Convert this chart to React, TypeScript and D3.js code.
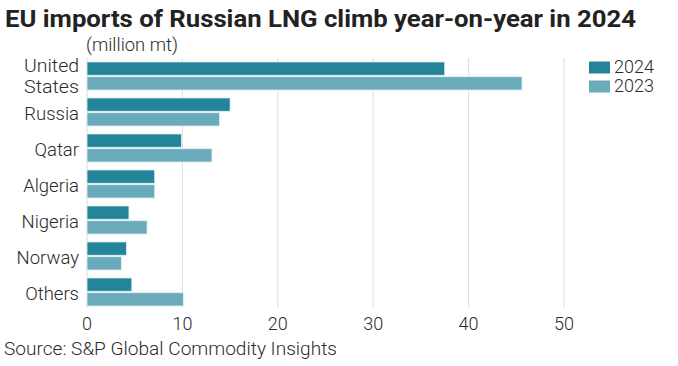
import React from "react";
import * as d3 from "d3";

const categories = ["United States", "Russia", "Qatar", "Algeria", "Nigeria", "Norway", "Others"];
const categoryLines = [["United", "States"], ["Russia"], ["Qatar"], ["Algeria"], ["Nigeria"], ["Norway"], ["Others"]];
const values2024 = [37.5, 15.0, 9.9, 7.1, 4.4, 4.15, 4.7];
const values2023 = [45.6, 13.9, 13.1, 7.1, 6.3, 3.6, 10.1];
const seriesNames = ["2024", "2023"];
const xTicks = [0, 10, 20, 30, 40, 50];

const W = 678;
const H = 366;
const FONT = "Roboto, 'Noto Sans', sans-serif";
const COLORS = ["#24849a", "#6aabbb"];
const TEXT = "#2b2b2b";

export default function App() {
  const x = d3.scaleLinear().domain([0, 50]).range([87, 564]);
  const y = d3.scaleBand<string>().domain(categories).range([58, 310]).paddingInner(0.22).paddingOuter(0.11);
  const inner = d3.scaleBand<string>().domain(seriesNames).range([0, y.bandwidth()]).paddingInner(0.1);
  const series = [values2024, values2023];

  return (
    <svg width={W} height={H} style={{ position: "absolute", left: 0, top: 0, background: "#fff" }}>
      <text x={5} y={27} fontFamily={FONT} fontWeight={700} fontSize={24} fill="#222" textLength={631} lengthAdjust="spacingAndGlyphs">
        EU imports of Russian LNG climb year-on-year in 2024
      </text>
      <text x={86} y={51} fontFamily={FONT} fontWeight={300} fontSize={18} fill={TEXT} textLength={92} lengthAdjust="spacingAndGlyphs">
        (million mt)
      </text>
      {xTicks.map((t) => (
        <g key={t}>
          <line x1={x(t)} x2={x(t)} y1={58} y2={308} stroke="#e3e3e3" strokeWidth={1.2} />
          <text x={x(t)} y={330} textAnchor="middle" fontFamily={FONT} fontWeight={300} fontSize={18} fill={TEXT}>
            {t}
          </text>
        </g>
      ))}
      {categories.map((c, i) => {
        const lines = categoryLines[i];
        const n = lines.length;
        const cy = (y(c) as number) + y.bandwidth() / 2;
        const lh = 20.6;
        const fs = n === 1 ? 18.5 : 17.5;
        return (
          <g key={c}>
            {series.map((vals, s) => (
              <rect
                key={s}
                x={x(0)}
                y={(y(c) as number) + (inner(seriesNames[s]) as number)}
                width={x(vals[i]) - x(0)}
                height={inner.bandwidth()}
                fill={COLORS[s]}
                stroke="#e6f1f4"
                strokeWidth={0.8}
              />
            ))}
            {lines.map((ln, k) => (
              <text
                key={k}
                x={79}
                y={n === 1 ? cy + 7.5 : cy + 6.3 + (k - (n - 1) / 2) * lh}
                textAnchor="end"
                fontFamily={FONT}
                fontWeight={300}
                fontSize={fs}
                fill={TEXT}
                textLength={n === 1 ? undefined : 55}
                lengthAdjust="spacingAndGlyphs"
              >
                {ln}
              </text>
            ))}
          </g>
        );
      })}
      {seriesNames.map((s, k) => (
        <g key={s}>
          <rect x={589} y={61.5 + k * 19} width={21} height={12} fill={COLORS[k]} />
          <text x={614} y={73 + k * 19} fontFamily={FONT} fontWeight={300} fontSize={18} fill={TEXT}>
            {s}
          </text>
        </g>
      ))}
      <text x={4} y={355} fontFamily={FONT} fontWeight={300} fontSize={18.5} fill={TEXT} textLength={333} lengthAdjust="spacingAndGlyphs">
        Source: S&amp;P Global Commodity Insights
      </text>
    </svg>
  );
}
